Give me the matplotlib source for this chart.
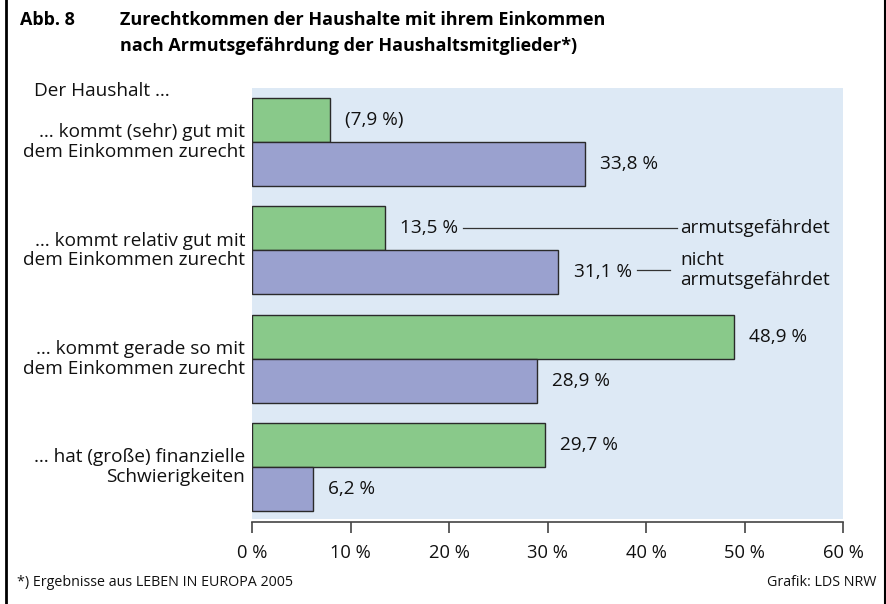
import matplotlib
matplotlib.use("Agg")
import matplotlib.pyplot as plt
from matplotlib.lines import Line2D

plt.rcParams['font.family'] = ['Open Sans', 'DejaVu Sans']

categories = ["… kommt (sehr) gut mit\ndem Einkommen zurecht",
              "… kommt relativ gut mit\ndem Einkommen zurecht",
              "… kommt gerade so mit\ndem Einkommen zurecht",
              "… hat (große) finanzielle\nSchwierigkeiten"]
armuts = [7.9, 13.5, 48.9, 29.7]
armuts_labels = ["(7,9 %)", "13,5 %", "48,9 %", "29,7 %"]
nicht = [33.8, 31.1, 28.9, 6.2]
nicht_labels = ["33,8 %", "31,1 %", "28,9 %", "6,2 %"]
xticks = [0, 10, 20, 30, 40, 50, 60]
xticklabels = ["0 %", "10 %", "20 %", "30 %", "40 %", "50 %", "60 %"]

GREEN = "#89c98a"
BLUE = "#9aa1cf"
BG = "#dde9f5"
EDGE = "#2a2a2a"

W, H = 887, 604
fig = plt.figure(figsize=(W/100, H/100), dpi=100)
fig.patch.set_facecolor("white")

# frame lines left and right
fig.add_artist(Line2D([6/W, 6/W], [0, 1], transform=fig.transFigure, color="black", lw=2))
fig.add_artist(Line2D([885/W, 885/W], [0, 1], transform=fig.transFigure, color="black", lw=1.5))

left, right, top, bottom = 252/W, 843/W, 1-88/H, 1-519/H
ax = fig.add_axes([left, bottom, right-left, top-bottom])
ax.set_facecolor(BG)

h = 0.406
ys = list(range(len(categories)))
ax.barh([y - h/2 for y in ys], armuts, height=h, color=GREEN, edgecolor=EDGE, linewidth=1)
ax.barh([y + h/2 for y in ys], nicht, height=h, color=BLUE, edgecolor=EDGE, linewidth=1)

fs = 13.7
for y, v, t in zip(ys, armuts, armuts_labels):
    ax.annotate(t, (v, y - h/2), xytext=(11, 0), textcoords="offset points",
                va="center", ha="left", fontsize=fs, color="#111")
for y, v, t in zip(ys, nicht, nicht_labels):
    ax.annotate(t, (v, y + h/2), xytext=(11, 0), textcoords="offset points",
                va="center", ha="left", fontsize=fs, color="#111")

# legend annotations (second group)
ax.plot([21.4, 43.1], [1 - h/2, 1 - h/2], color="#333", lw=0.9)
ax.text(43.5, 1 - h/2, "armutsgefährdet", va="center", ha="left", fontsize=fs, color="#111")
ax.plot([39.1, 42.4], [1 + h/2 - 0.02, 1 + h/2 - 0.02], color="#333", lw=0.9)
ax.text(43.5, 1 + h/2 - 0.02, "nicht\narmutsgefährdet", va="center", ha="left",
        fontsize=fs, color="#111", linespacing=1.12)

ax.set_xlim(0, 60)
ax.set_ylim(3.48, -0.5)
ax.set_yticks([])
ax.set_xticks(xticks)
ax.set_xticklabels(xticklabels)
for s in ["top", "right", "left"]:
    ax.spines[s].set_visible(False)
ax.spines["bottom"].set_position(("outward", 2))
ax.spines["bottom"].set_color("#444")
ax.spines["bottom"].set_linewidth(1.2)
ax.tick_params(axis="x", direction="out", length=8, width=1.2, color="#444", pad=8,
               labelsize=13.2, labelcolor="#111")

# category labels
for y, c in zip(ys, categories):
    ax.text(-0.7, y, c, ha="right", va="center", fontsize=fs, color="#111",
            linespacing=1.12, transform=ax.transData, clip_on=False)

# titles
fig.text(20/W, 1-20/H, "Abb. 8", fontsize=13, fontweight="bold", va="center", ha="left")
fig.text(120/W, 1-20/H, "Zurechtkommen der Haushalte mit ihrem Einkommen",
         fontsize=13, fontweight="bold", va="center", ha="left")
fig.text(120/W, 1-46/H, "nach Armutsgefährdung der Haushaltsmitglieder*)",
         fontsize=13, fontweight="bold", va="center", ha="left")
fig.text(34/W, 1-91/H, "Der Haushalt …", fontsize=fs, va="center", ha="left", color="#111")

fig.text(17/W, 1-582/H, "*) Ergebnisse aus LEBEN IN EUROPA 2005", fontsize=10.3,
         va="center", ha="left", color="#111")
fig.text(876/W, 1-582/H, "Grafik: LDS NRW", fontsize=10.3, va="center", ha="right", color="#111")

fig.savefig("out.png", dpi=100)
